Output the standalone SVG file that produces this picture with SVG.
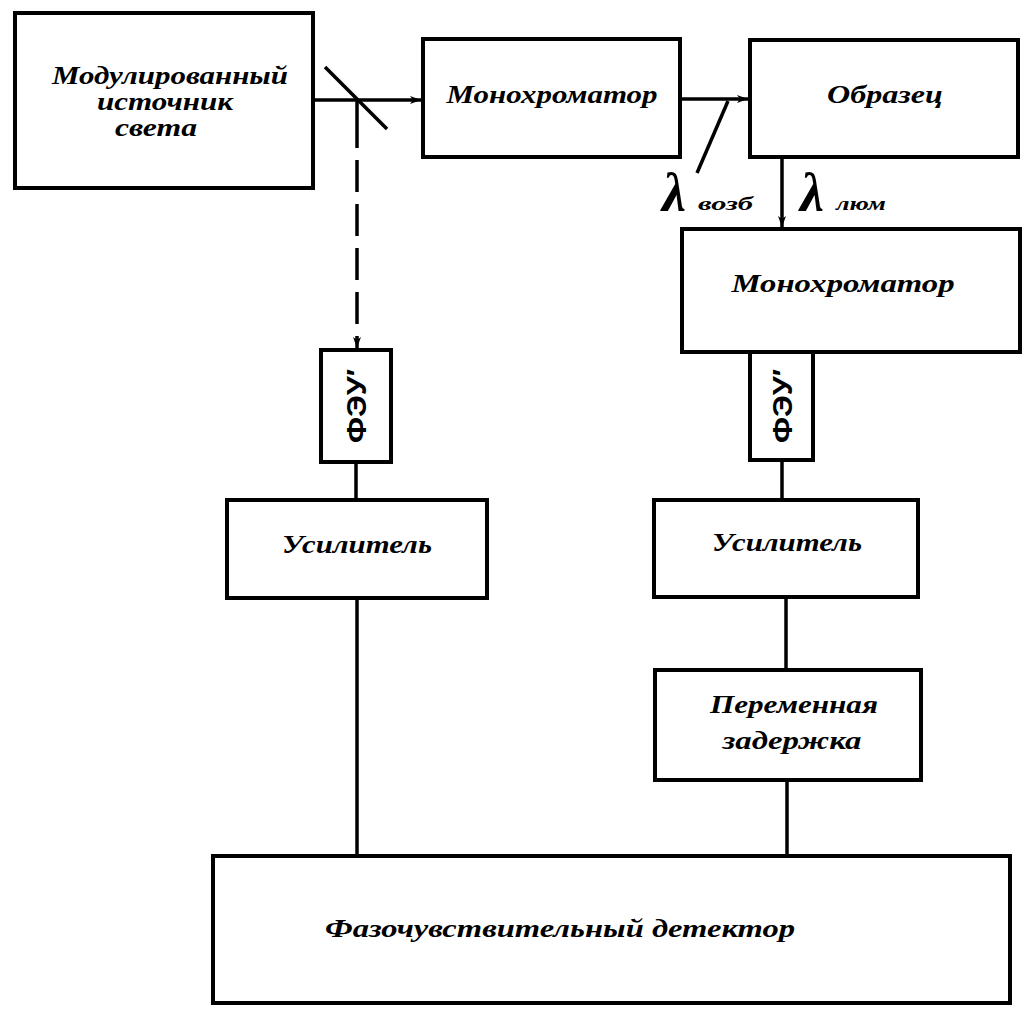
<svg xmlns="http://www.w3.org/2000/svg" width="1028" height="1016" viewBox="0 0 1028 1016">
<defs>
<style>
.box{fill:#fff;stroke:#000;stroke-width:4}
.t{font-family:"Liberation Serif","DejaVu Serif",serif;font-style:italic;font-weight:bold;font-size:25px;fill:#000;text-anchor:middle}
.c{stroke:#000;stroke-width:3.5;fill:none}
.lam{font-family:"Liberation Serif","DejaVu Serif",serif;font-style:italic;font-weight:bold;font-size:54px;fill:#000}
.sub{font-family:"Liberation Serif","DejaVu Serif",serif;font-style:italic;font-weight:bold;font-size:18px;fill:#000}
.feu{font-family:"Liberation Sans","DejaVu Sans",sans-serif;font-weight:bold;font-size:28px;fill:#000;text-anchor:middle}
</style>
<marker id="ah" markerWidth="12" markerHeight="10" refX="11" refY="5" orient="auto" markerUnits="userSpaceOnUse">
<path d="M0,1 L11,5 L0,9 L3,5 Z" fill="#000"/>
</marker>
</defs>
<rect width="1028" height="1016" fill="#fff"/>
<g id="connectors">
<line class="c" x1="313" y1="100" x2="421" y2="100" marker-end="url(#ah)"/>
<line class="c" x1="325" y1="67" x2="387" y2="129" stroke-width="4"/>
<line class="c" x1="357" y1="100" x2="357" y2="148"/>
<line class="c" x1="357" y1="160" x2="357" y2="348" stroke-dasharray="32 12" marker-end="url(#ah)"/>
<line class="c" x1="680" y1="99" x2="748" y2="99" marker-end="url(#ah)"/>
<line class="c" x1="728" y1="101" x2="697" y2="173" stroke-width="2.2"/>
<line class="c" x1="782" y1="157" x2="782" y2="227" marker-end="url(#ah)"/>
<line class="c" x1="356" y1="462" x2="356" y2="500"/>
<line class="c" x1="782" y1="460" x2="782" y2="500"/>
<line class="c" x1="357" y1="598" x2="357" y2="856"/>
<line class="c" x1="786" y1="597" x2="786" y2="670"/>
<line class="c" x1="787" y1="780" x2="787" y2="856"/>
</g>
<g id="source">
<rect class="box" x="15" y="13" width="298" height="175"/>
<text class="t" x="170" y="84" textLength="236" lengthAdjust="spacingAndGlyphs">Модулированный</text>
<text class="t" x="165" y="110" textLength="136" lengthAdjust="spacingAndGlyphs">источник</text>
<text class="t" x="156" y="136" textLength="82" lengthAdjust="spacingAndGlyphs">света</text>
</g>
<g id="mono1">
<rect class="box" x="423" y="39" width="257" height="118"/>
<text class="t" x="552" y="103" textLength="211" lengthAdjust="spacingAndGlyphs">Монохроматор</text>
</g>
<g id="sample">
<rect class="box" x="750" y="40" width="268" height="117"/>
<text class="t" x="885" y="103" textLength="116" lengthAdjust="spacingAndGlyphs">Образец</text>
</g>
<g id="lambda-labels">
<text class="lam" x="662" y="211">λ</text>
<text class="sub" x="698" y="210" textLength="55" lengthAdjust="spacingAndGlyphs">возб</text>
<text class="lam" x="800" y="211">λ</text>
<text class="sub" x="836" y="210" textLength="50" lengthAdjust="spacingAndGlyphs">люм</text>
</g>
<g id="mono2">
<rect class="box" x="682" y="229" width="338" height="123"/>
<text class="t" x="843" y="292" textLength="223" lengthAdjust="spacingAndGlyphs">Монохроматор</text>
</g>
<g id="feu1">
<rect class="box" x="321" y="350" width="70" height="112"/>
<text class="feu" transform="translate(366,406) rotate(-90)" textLength="74" lengthAdjust="spacingAndGlyphs">ФЭУ′</text>
</g>
<g id="feu2">
<rect class="box" x="750" y="352" width="63" height="108"/>
<text class="feu" transform="translate(792,406) rotate(-90)" textLength="74" lengthAdjust="spacingAndGlyphs">ФЭУ′</text>
</g>
<g id="amp1">
<rect class="box" x="227" y="500" width="260" height="98"/>
<text class="t" x="357" y="553" textLength="150" lengthAdjust="spacingAndGlyphs">Усилитель</text>
</g>
<g id="amp2">
<rect class="box" x="654" y="500" width="264" height="97"/>
<text class="t" x="787" y="551" textLength="150" lengthAdjust="spacingAndGlyphs">Усилитель</text>
</g>
<g id="delay">
<rect class="box" x="655" y="670" width="266" height="110"/>
<text class="t" x="794" y="713" textLength="168" lengthAdjust="spacingAndGlyphs">Переменная</text>
<text class="t" x="792" y="749" textLength="139" lengthAdjust="spacingAndGlyphs">задержка</text>
</g>
<g id="detector">
<rect class="box" x="213" y="856" width="797" height="147"/>
<text class="t" x="560" y="937" textLength="470" lengthAdjust="spacingAndGlyphs">Фазочувствительный детектор</text>
</g>
</svg>
